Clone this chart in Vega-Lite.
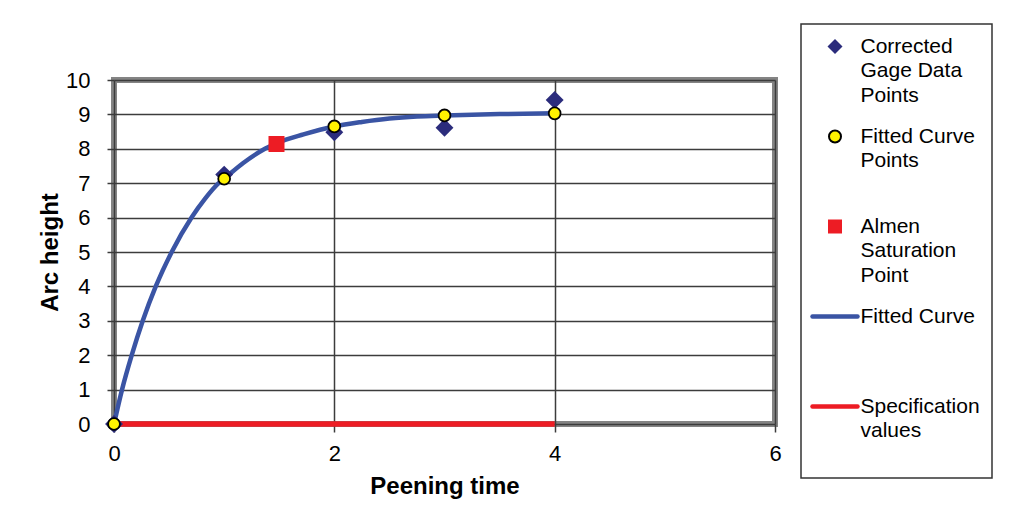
{
  "$schema": "https://vega.github.io/schema/vega-lite/v6.json",
  "width": 661,
  "height": 344,
  "autosize": "none",
  "padding": {"left": 114, "top": 80, "right": 238, "bottom": 97},
  "background": "white",
  "config": {
    "view": {"stroke": "#848484", "strokeWidth": 6},
    "font": "Liberation Sans"
  },
  "datasets": {
    "curve": [
      {"t": 0, "h": 0, "series": "Fitted Curve"},
      {"t": 0.073, "h": 1, "series": "Fitted Curve"},
      {"t": 0.161, "h": 2, "series": "Fitted Curve"},
      {"t": 0.261, "h": 3, "series": "Fitted Curve"},
      {"t": 0.379, "h": 4, "series": "Fitted Curve"},
      {"t": 0.524, "h": 5, "series": "Fitted Curve"},
      {"t": 0.704, "h": 6, "series": "Fitted Curve"},
      {"t": 0.827, "h": 6.55, "series": "Fitted Curve"},
      {"t": 0.95, "h": 7.0, "series": "Fitted Curve"},
      {"t": 1.0, "h": 7.13, "series": "Fitted Curve"},
      {"t": 1.17, "h": 7.58, "series": "Fitted Curve"},
      {"t": 1.37, "h": 8.0, "series": "Fitted Curve"},
      {"t": 1.48, "h": 8.17, "series": "Fitted Curve"},
      {"t": 1.72, "h": 8.42, "series": "Fitted Curve"},
      {"t": 2.0, "h": 8.65, "series": "Fitted Curve"},
      {"t": 2.25, "h": 8.78, "series": "Fitted Curve"},
      {"t": 2.5, "h": 8.88, "series": "Fitted Curve"},
      {"t": 2.75, "h": 8.94, "series": "Fitted Curve"},
      {"t": 3.0, "h": 8.97, "series": "Fitted Curve"},
      {"t": 3.5, "h": 9.01, "series": "Fitted Curve"},
      {"t": 4.0, "h": 9.03, "series": "Fitted Curve"}
    ],
    "spec": [
      {"t": 0, "h": 0, "series": "Specification values"},
      {"t": 4, "h": 0, "series": "Specification values"}
    ],
    "gage": [
      {"t": 0, "h": 0, "series": "Corrected Gage Data Points"},
      {"t": 1, "h": 7.25, "series": "Corrected Gage Data Points"},
      {"t": 2, "h": 8.48, "series": "Corrected Gage Data Points"},
      {"t": 3, "h": 8.61, "series": "Corrected Gage Data Points"},
      {"t": 4, "h": 9.42, "series": "Corrected Gage Data Points"}
    ],
    "fitted": [
      {"t": 0, "h": 0, "series": "Fitted Curve Points"},
      {"t": 1, "h": 7.13, "series": "Fitted Curve Points"},
      {"t": 2, "h": 8.65, "series": "Fitted Curve Points"},
      {"t": 3, "h": 8.97, "series": "Fitted Curve Points"},
      {"t": 4, "h": 9.03, "series": "Fitted Curve Points"}
    ],
    "almen": [
      {"t": 1.475, "h": 8.14, "series": "Almen Saturation Point"}
    ]
  },
  "encoding": {
    "x": {
      "field": "t", "type": "quantitative",
      "scale": {"domain": [0, 6], "nice": false, "zero": false},
      "axis": {
        "title": "Peening time",
        "values": [0, 2, 4, 6],
        "domain": false,
        "labelFlush": false,
        "grid": true, "gridColor": "#3c3c3c", "gridWidth": 1.5, "gridOpacity": 1,
        "ticks": true, "tickSize": 8, "tickColor": "#3c3c3c", "tickWidth": 1.5,
        "labelFontSize": 22, "labelColor": "black", "labelPadding": 11,
        "labelFont": "Liberation Sans",
        "titleFontSize": 24, "titleFontWeight": "bold", "titleColor": "black",
        "titleFont": "Liberation Sans",
        "titleY": 69, "titleBaseline": "alphabetic"
      }
    },
    "y": {
      "field": "h", "type": "quantitative",
      "scale": {"domain": [0, 10], "nice": false},
      "axis": {
        "title": "Arc height",
        "values": [0, 1, 2, 3, 4, 5, 6, 7, 8, 9, 10],
        "domain": false,
        "labelFlush": false,
        "grid": true, "gridColor": "#3c3c3c", "gridWidth": 1.5, "gridOpacity": 1,
        "ticks": true, "tickSize": 7, "tickColor": "#3c3c3c", "tickWidth": 1.5,
        "labelFontSize": 22, "labelColor": "black", "labelPadding": 17,
        "labelFont": "Liberation Sans",
        "titleFontSize": 24, "titleFontWeight": "bold", "titleColor": "black",
        "titleFont": "Liberation Sans",
        "titleX": -57, "titleBaseline": "alphabetic"
      }
    }
  },
  "layer": [
    {
      "data": {"name": "curve"},
      "mark": {"type": "line", "strokeWidth": 4.5, "interpolate": "monotone"},
      "encoding": {
        "stroke": {
          "field": "series", "type": "nominal",
          "scale": {
            "domain": ["Corrected Gage Data Points", "Fitted Curve Points", "Almen Saturation Point", "Fitted Curve", "Specification values"],
            "range": ["transparent", "#000000", "transparent", "#3A54A4", "#ED1C24"]
          },
          "legend": {
            "title": null,
            "orient": "none", "legendX": 687, "legendY": -56,
            "strokeColor": "#333", "padding": 12,
            "fillColor": "white",
            "labelFont": "Liberation Sans", "labelFontSize": 21, "labelColor": "black",
            "labelOffset": 15, "symbolOffset": 11.5, "labelLimit": 300,
            "symbolSize": 2025,
            "gridAlign": "all", "rowPadding": 19,
            "labelBaseline": "top",
            "labelExpr": "datum.value == 'Corrected Gage Data Points' ? ['Corrected', 'Gage Data', 'Points'] : datum.value == 'Fitted Curve Points' ? ['Fitted Curve', 'Points'] : datum.value == 'Almen Saturation Point' ? ['Almen', 'Saturation', 'Point'] : datum.value == 'Specification values' ? ['Specification', 'values', ''] : datum.label",
            "encode": {
              "legend": {"update": {"strokeWidth": {"value": 1.5}}},
              "symbols": {
                "update": {
                  "shape": {"signal": "datum.value == 'Corrected Gage Data Points' ? 'diamond' : datum.value == 'Fitted Curve Points' ? 'circle' : datum.value == 'Almen Saturation Point' ? 'square' : 'stroke'"},
                  "size": {"signal": "datum.value == 'Corrected Gage Data Points' ? 225 : datum.value == 'Fitted Curve Points' ? 144 : datum.value == 'Almen Saturation Point' ? 196 : 2025"},
                  "strokeWidth": {"signal": "datum.value == 'Fitted Curve Points' ? 2 : (datum.value == 'Fitted Curve' || datum.value == 'Specification values') ? 4.5 : 0"},
                  "strokeCap": {"value": "round"},
                  "opacity": {"value": 1}
                }
              },
              "labels": {"update": {"lineHeight": {"value": 24.5}, "dy": {"value": -11}}}
            }
          }
        }
      }
    },
    {
      "data": {"name": "spec"},
      "mark": {"type": "line", "strokeWidth": 5.5},
      "encoding": {
        "stroke": {"field": "series", "type": "nominal"}
      }
    },
    {
      "data": {"name": "gage"},
      "mark": {"type": "point", "shape": "diamond", "filled": true, "size": 320, "opacity": 1, "strokeWidth": 0},
      "encoding": {
        "fill": {
          "field": "series", "type": "nominal",
          "scale": {
            "domain": ["Corrected Gage Data Points", "Fitted Curve Points", "Almen Saturation Point", "Fitted Curve", "Specification values"],
            "range": ["#2B2C7C", "#FFF200", "#ED1C24", "transparent", "transparent"]
          },
          "legend": {
            "title": null,
            "orient": "none", "legendX": 687, "legendY": -56,
            "strokeColor": "#333", "padding": 12,
            "fillColor": "white",
            "labelFont": "Liberation Sans", "labelFontSize": 21, "labelColor": "black",
            "labelOffset": 15, "symbolOffset": 11.5, "labelLimit": 300,
            "symbolSize": 2025,
            "gridAlign": "all", "rowPadding": 19,
            "labelBaseline": "top",
            "labelExpr": "datum.value == 'Corrected Gage Data Points' ? ['Corrected', 'Gage Data', 'Points'] : datum.value == 'Fitted Curve Points' ? ['Fitted Curve', 'Points'] : datum.value == 'Almen Saturation Point' ? ['Almen', 'Saturation', 'Point'] : datum.value == 'Specification values' ? ['Specification', 'values', ''] : datum.label",
            "encode": {
              "legend": {"update": {"strokeWidth": {"value": 1.5}}},
              "symbols": {
                "update": {
                  "shape": {"signal": "datum.value == 'Corrected Gage Data Points' ? 'diamond' : datum.value == 'Fitted Curve Points' ? 'circle' : datum.value == 'Almen Saturation Point' ? 'square' : 'stroke'"},
                  "size": {"signal": "datum.value == 'Corrected Gage Data Points' ? 225 : datum.value == 'Fitted Curve Points' ? 144 : datum.value == 'Almen Saturation Point' ? 196 : 2025"},
                  "strokeWidth": {"signal": "datum.value == 'Fitted Curve Points' ? 2 : (datum.value == 'Fitted Curve' || datum.value == 'Specification values') ? 4.5 : 0"},
                  "strokeCap": {"value": "round"},
                  "opacity": {"value": 1}
                }
              },
              "labels": {"update": {"lineHeight": {"value": 24.5}, "dy": {"value": -11}}}
            }
          }
        }
      }
    },
    {
      "data": {"name": "fitted"},
      "mark": {"type": "point", "shape": "circle", "filled": true, "size": 140, "opacity": 1, "strokeWidth": 1.8},
      "encoding": {
        "fill": {"field": "series", "type": "nominal"},
        "stroke": {"field": "series", "type": "nominal"}
      }
    },
    {
      "data": {"name": "almen"},
      "mark": {"type": "point", "shape": "square", "filled": true, "size": 256, "opacity": 1, "strokeWidth": 0},
      "encoding": {
        "fill": {"field": "series", "type": "nominal"}
      }
    }
  ]
}
